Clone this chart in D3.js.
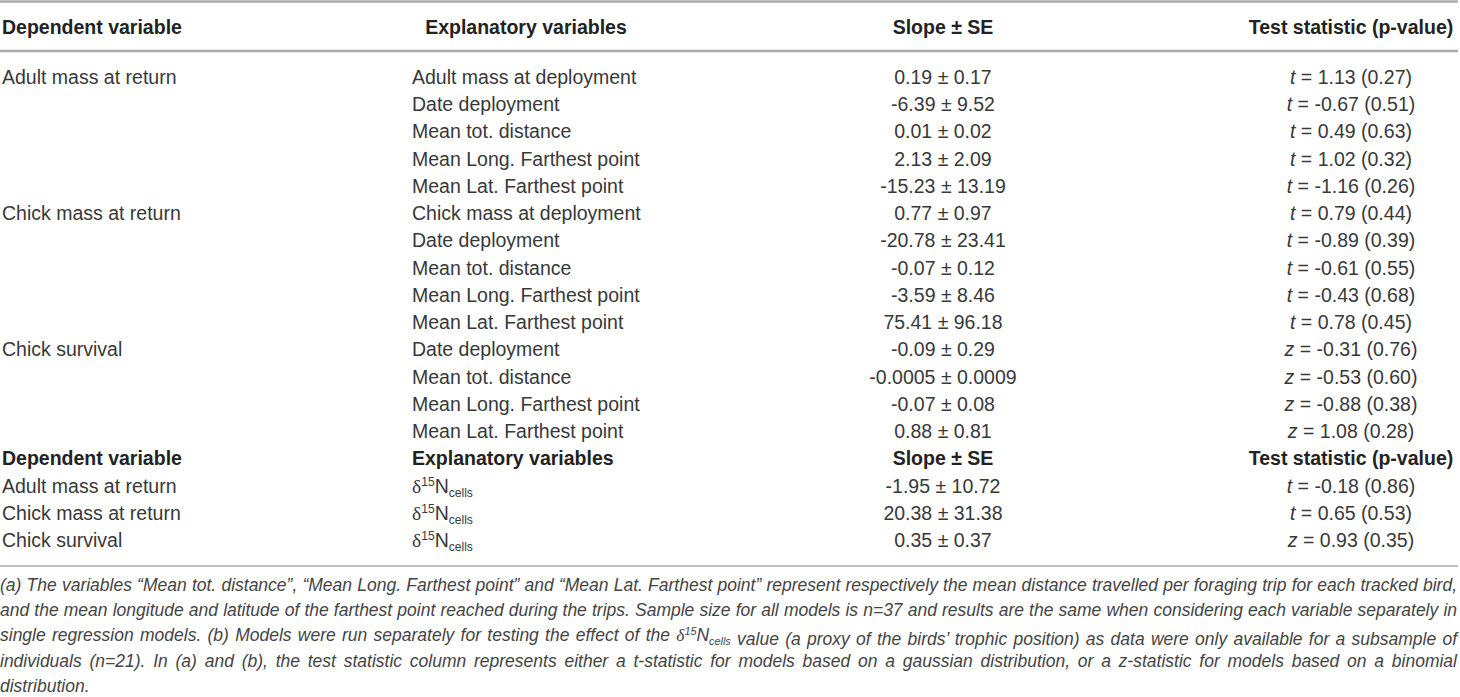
<!DOCTYPE html>
<html>
<head>
<meta charset="utf-8">
<script src="https://cdn.jsdelivr.net/npm/d3@7"></script>
<style>
    body { margin: 0; background: #fff; }
    text { font-family: "Liberation Sans", Arial, Helvetica, sans-serif; }
</style>
</head>
<body>
<div id="chart"></div>
<script>
// column headers
var headers = ["Dependent variable", "Explanatory variables", "Slope ± SE", "Test statistic (p-value)"];

// part (a): multiple regression models
var dependentA = ["Adult mass at return", "Chick mass at return", "Chick survival"];
var groupSizeA = [5, 5, 4];
var explanatoryA = [
    "Adult mass at deployment", "Date deployment", "Mean tot. distance", "Mean Long. Farthest point", "Mean Lat. Farthest point",
    "Chick mass at deployment", "Date deployment", "Mean tot. distance", "Mean Long. Farthest point", "Mean Lat. Farthest point",
    "Date deployment", "Mean tot. distance", "Mean Long. Farthest point", "Mean Lat. Farthest point"
];
var slopeA = ["0.19", "-6.39", "0.01", "2.13", "-15.23", "0.77", "-20.78", "-0.07", "-3.59", "75.41", "-0.09", "-0.0005", "-0.07", "0.88"];
var seA = ["0.17", "9.52", "0.02", "2.09", "13.19", "0.97", "23.41", "0.12", "8.46", "96.18", "0.29", "0.0009", "0.08", "0.81"];
var statTypeA = ["t", "t", "t", "t", "t", "t", "t", "t", "t", "t", "z", "z", "z", "z"];
var statA = ["1.13", "-0.67", "0.49", "1.02", "-1.16", "0.79", "-0.89", "-0.61", "-0.43", "0.78", "-0.31", "-0.53", "-0.88", "1.08"];
var pA = ["0.27", "0.51", "0.63", "0.32", "0.26", "0.44", "0.39", "0.55", "0.68", "0.45", "0.76", "0.60", "0.38", "0.28"];

// part (b): delta 15N models
var dependentB = ["Adult mass at return", "Chick mass at return", "Chick survival"];
var slopeB = ["-1.95", "20.38", "0.35"];
var seB = ["10.72", "31.38", "0.37"];
var statTypeB = ["t", "t", "z"];
var statB = ["-0.18", "0.65", "0.93"];
var pB = ["0.86", "0.53", "0.35"];

// footnote lines, {N} marks the delta 15N symbol
var footnote = [
    "(a) The variables “Mean tot. distance”, “Mean Long. Farthest point” and “Mean Lat. Farthest point” represent respectively the mean distance travelled per foraging trip for each tracked bird,",
    "and the mean longitude and latitude of the farthest point reached during the trips. Sample size for all models is n=37 and results are the same when considering each variable separately in",
    "single regression models. (b) Models were run separately for testing the effect of the {N} value (a proxy of the birds’ trophic position) as data were only available for a subsample of",
    "individuals (n=21). In (a) and (b), the test statistic column represents either a t-statistic for models based on a gaussian distribution, or a z-statistic for models based on a binomial",
    "distribution."
];

function init() {
    var w = 1460;
    var h = 697;
    var fontSize = 19.5;
    var textColor = "#383838";
    var headColor = "#222";
    var lineColor = "#aaaaaa";

    // column anchors
    var colLeft = [2, 412];
    var colMid = [526, 943, 1351];

    var svg = d3.select("#chart")
        .append("svg")
        .attr("width", w)
        .attr("height", h);

    // row positions, 0-13 part a, 14 header b, 15-17 part b
    var yRow = d3.scaleLinear().domain([0, 17]).range([77, 540]);
    var headerY = 27;

    // rules
    [{ y: 1.5, wd: 2.5 }, { y: 51, wd: 2.5 }, { y: 566, wd: 1.6 }].forEach(function (r) {
        svg.append("line")
            .attr("x1", 0)
            .attr("x2", 1458)
            .attr("y1", r.y)
            .attr("y2", r.y)
            .attr("stroke", lineColor)
            .attr("stroke-width", r.wd);
    });

    function cell(x, y, anchor, bold) {
        return svg.append("text")
            .attr("x", x)
            .attr("y", y)
            .attr("dy", "0.36em")
            .attr("text-anchor", anchor)
            .attr("font-size", fontSize)
            .attr("font-weight", bold ? "bold" : "normal")
            .attr("fill", bold ? headColor : textColor);
    }

    function statCell(y, type, value, p) {
        var t = cell(colMid[2], y, "middle", false);
        t.append("tspan").attr("font-style", "italic").text(type);
        t.append("tspan").text(" = " + value + " (" + p + ")");
    }

    function deltaCell(sel, size) {
        sel.append("tspan").attr("font-family", "'Liberation Serif', 'Times New Roman', serif").text("δ");
        sel.append("tspan").attr("font-size", size * 0.62).attr("dy", -size * 0.36).text("15");
        sel.append("tspan").attr("dy", size * 0.36).text("N");
        sel.append("tspan").attr("font-size", size * 0.62).attr("dy", size * 0.22).text("cells");
        sel.append("tspan").attr("dy", -size * 0.22).text("");
    }

    // header row (a)
    cell(colLeft[0], headerY, "start", true).text(headers[0]);
    cell(colMid[0], headerY, "middle", true).text(headers[1]);
    cell(colMid[1], headerY, "middle", true).text(headers[2]);
    cell(colMid[2], headerY, "middle", true).text(headers[3]);

    // dependent labels (a)
    var start = 0;
    dependentA.forEach(function (d, i) {
        cell(colLeft[0], yRow(start), "start", false).text(d);
        start += groupSizeA[i];
    });

    // rows (a)
    explanatoryA.forEach(function (d, i) {
        cell(colLeft[1], yRow(i), "start", false).text(d);
        cell(colMid[1], yRow(i), "middle", false).text(slopeA[i] + " ± " + seA[i]);
        statCell(yRow(i), statTypeA[i], statA[i], pA[i]);
    });

    // header row (b)
    cell(colLeft[0], yRow(14), "start", true).text(headers[0]);
    cell(colLeft[1], yRow(14), "start", true).text(headers[1]);
    cell(colMid[1], yRow(14), "middle", true).text(headers[2]);
    cell(colMid[2], yRow(14), "middle", true).text(headers[3]);

    // rows (b)
    dependentB.forEach(function (d, i) {
        var y = yRow(15 + i);
        cell(colLeft[0], y, "start", false).text(d);
        deltaCell(cell(colLeft[1], y, "start", false), fontSize);
        cell(colMid[1], y, "middle", false).text(slopeB[i] + " ± " + seB[i]);
        statCell(y, statTypeB[i], statB[i], pB[i]);
    });

    // footnote
    var noteSize = 17.5;
    var noteY = d3.scaleLinear().domain([0, 4]).range([585, 686]);
    var noteWidth = 1457;

    footnote.forEach(function (line, i) {
        var t = svg.append("text")
            .attr("x", 0)
            .attr("y", noteY(i))
            .attr("dy", "0.34em")
            .attr("font-size", noteSize)
            .attr("font-style", "italic")
            .attr("fill", "#444");

        var parts = line.split("{N}");
        parts.forEach(function (p, j) {
            if (j > 0) deltaCell(t, noteSize);
            t.append("tspan").text(p);
        });

        // justify every line but the last
        if (i < footnote.length - 1) {
            var node = t.node();
            var natural = node.getComputedTextLength();
            var spaces = (node.textContent.match(/ /g) || []).length;
            var diff = noteWidth - natural;
            if (diff >= 0) {
                t.attr("word-spacing", diff / spaces);
            } else {
                t.attr("textLength", noteWidth).attr("lengthAdjust", "spacingAndGlyphs");
            }
        }
    });
}

window.onload = init;
</script>
</body>
</html>
